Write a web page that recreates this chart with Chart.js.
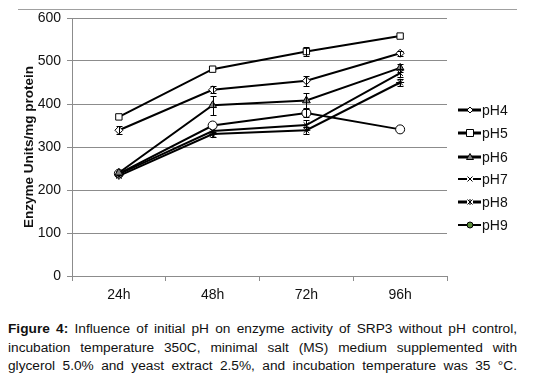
<!DOCTYPE html>
<html lang="en">
<head>
<meta charset="UTF-8">
<title>Figure 4 - pH vs enzyme activity</title>
<script src="https://cdn.jsdelivr.net/npm/chart.js"></script>
<style>
  body { margin: 0; background: #fff; font-family: "Liberation Sans", Arial, sans-serif; }
  #wrap { position: relative; width: 537px; height: 379px; }
  #topline { position: absolute; left: 18px; top: 9px; width: 499px; height: 1px; background: #a0a0a0; }
  #box { position: absolute; left: 0; top: 0; width: 537px; height: 310px; }
  #caption { position: absolute; left: 8px; top: 320px; width: 509px; font-size: 13.7px; color: #111; line-height: 18.5px; }
  #caption div { text-align: justify; text-align-last: justify; }
</style>
</head>
<body>
<div id="wrap">
  <div id="topline"></div>
  <div id="box"><canvas id="chart" width="537" height="310"></canvas></div>
  <div id="caption">
    <div><b>Figure 4:</b> Influence of initial pH on enzyme activity of SRP3 without pH control,</div>
    <div>incubation temperature 350C, minimal salt (MS) medium supplemented with</div>
    <div>glycerol 5.0% and yeast extract 2.5%, and incubation temperature was 35 °C.</div>
  </div>
</div>

<script>
// data
const categories = ['24h', '48h', '72h', '96h'];
const yTicks = [0, 100, 200, 300, 400, 500, 600];

const ph4 = [339, 433, 454, 518];
const ph5 = [370, 481, 522, 558];
const ph6 = [240, 397, 408, 484];
const ph7 = [237, 337, 351, 472];
const ph8 = [233, 330, 339, 450];
const ph9 = [238, 350, 379, 341];

// +/- error
const err4 = [9, 8, 12, 6];
const err5 = [0, 0, 11, 0];
const err6 = [0, 22, 17, 9];
const err7 = [0, 0, 12, 9];
const err8 = [0, 6, 8, 8];
const err9 = [0, 0, 10, 0];

function series(label, data, errs, style, fill, radius, legendWidth, legendFill) {
    return {
        label: label,
        data: data,
        errs: errs,
        borderColor: '#000',
        borderWidth: 2,
        pointStyle: style,
        pointRadius: radius,
        pointBackgroundColor: fill,
        pointBorderColor: '#000',
        pointBorderWidth: 1,
        legendWidth: legendWidth,
        legendFill: legendFill || fill
    };
}

// error bars, drawn with the chart scales
const errorBars = {
    id: 'errorBars',
    afterDatasetsDraw(chart) {
        const ctx = chart.ctx;
        const y = chart.scales.y;
        ctx.save();
        ctx.strokeStyle = '#000';
        ctx.lineWidth = 1;
        chart.data.datasets.forEach((ds, i) => {
            const meta = chart.getDatasetMeta(i);
            meta.data.forEach((pt, j) => {
                const e = ds.errs[j];
                if (!e) return;
                const top = Math.round(y.getPixelForValue(ds.data[j] + e)) + 0.5;
                const bot = Math.round(y.getPixelForValue(ds.data[j] - e)) + 0.5;
                const x = Math.round(pt.x) + 0.5;
                ctx.beginPath();
                ctx.moveTo(x, top); ctx.lineTo(x, bot);
                ctx.moveTo(x - 3, top); ctx.lineTo(x + 3, top);
                ctx.moveTo(x - 3, bot); ctx.lineTo(x + 3, bot);
                ctx.stroke();
            });
        });
        ctx.restore();
    }
};

// legend on the right: line with small marker, then label
const sideLegend = {
    id: 'sideLegend',
    afterDraw(chart) {
        const ctx = chart.ctx;
        const rows = [110, 133, 157, 179, 202, 225];
        const cx = 470;
        ctx.save();
        chart.data.datasets.forEach((ds, i) => {
            const yy = rows[i];
            ctx.strokeStyle = '#000';
            ctx.lineWidth = ds.legendWidth;
            ctx.beginPath();
            ctx.moveTo(458, yy); ctx.lineTo(481, yy);
            ctx.stroke();

            ctx.fillStyle = ds.legendFill;
            ctx.lineWidth = 1;
            ctx.beginPath();
            if (ds.pointStyle === 'circle') {
                ctx.arc(cx, yy, 3, 0, Math.PI * 2);
            } else if (ds.pointStyle === 'rect') {
                ctx.rect(cx - 3.5, yy - 3.5, 7, 7);
            } else if (ds.pointStyle === 'rectRot') {
                ctx.moveTo(cx, yy - 3); ctx.lineTo(cx + 3, yy); ctx.lineTo(cx, yy + 3); ctx.lineTo(cx - 3, yy);
                ctx.closePath();
            } else if (ds.pointStyle === 'triangle') {
                ctx.moveTo(cx, yy - 3.5); ctx.lineTo(cx + 3.5, yy + 2.5); ctx.lineTo(cx - 3.5, yy + 2.5);
                ctx.closePath();
            } else {
                // cross / star marks: clear a gap in the line, then draw strokes
                ctx.fillStyle = '#fff';
                ctx.fillRect(cx - 3, yy - 2, 6, 4);
                ctx.beginPath();
                ctx.moveTo(cx - 2.5, yy - 2.5); ctx.lineTo(cx + 2.5, yy + 2.5);
                ctx.moveTo(cx + 2.5, yy - 2.5); ctx.lineTo(cx - 2.5, yy + 2.5);
                if (ds.pointStyle === 'star') {
                    ctx.moveTo(cx, yy - 3); ctx.lineTo(cx, yy + 3);
                }
                ctx.stroke();
                ctx.beginPath();
            }
            ctx.fill();
            ctx.stroke();

            ctx.fillStyle = '#111';
            ctx.font = '14px "Liberation Sans", Arial, sans-serif';
            ctx.textBaseline = 'middle';
            ctx.textAlign = 'left';
            ctx.fillText(ds.label, 482, yy + 1);
        });
        ctx.restore();
    }
};

const ctx = document.getElementById('chart').getContext('2d');
new Chart(ctx, {
    type: 'line',
    data: {
        labels: categories,
        datasets: [
            series('pH4', ph4, err4, 'rectRot', '#fff', 4, 3),
            series('pH5', ph5, err5, 'rect', '#fff', 4.5, 3),
            series('pH6', ph6, err6, 'triangle', '#808080', 4.5, 3),
            series('pH7', ph7, err7, 'crossRot', '#fff', 4, 2),
            series('pH8', ph8, err8, 'star', '#fff', 4, 3),
            series('pH9', ph9, err9, 'circle', '#fff', 4.5, 2, '#5b8c3a')
        ]
    },
    options: {
        responsive: false,
        animation: false,
        layout: { padding: { left: 17, right: 90, top: 18, bottom: 0 } },
        plugins: {
            legend: { display: false },
            tooltip: { enabled: false }
        },
        elements: { line: { tension: 0 } },
        scales: {
            x: {
                offset: true,
                grid: { offset: true, drawOnChartArea: false, drawTicks: true, tickLength: 5, color: '#8c8c8c' },
                border: { color: '#8c8c8c' },
                ticks: { color: '#111', font: { family: '"Liberation Sans", Arial', size: 14 }, padding: 6 },
                afterFit(scale) { scale.height = 34; }
            },
            y: {
                min: 0,
                max: 600,
                afterBuildTicks(scale) { scale.ticks = yTicks.map(v => ({ value: v })); },
                grid: { color: '#8c8c8c', tickLength: 5 },
                border: { color: '#8c8c8c' },
                ticks: { color: '#111', font: { family: '"Liberation Sans", Arial', size: 14 }, padding: 6 },
                title: {
                    display: true,
                    text: 'Enzyme Units/mg protein',
                    color: '#111',
                    font: { family: '"Liberation Sans", Arial', size: 13.5, weight: 'bold' },
                    padding: { top: 4, bottom: 0 }
                },
                afterFit(scale) { scale.width = 55; }
            }
        }
    },
    plugins: [errorBars, sideLegend]
});
</script>
</body>
</html>
